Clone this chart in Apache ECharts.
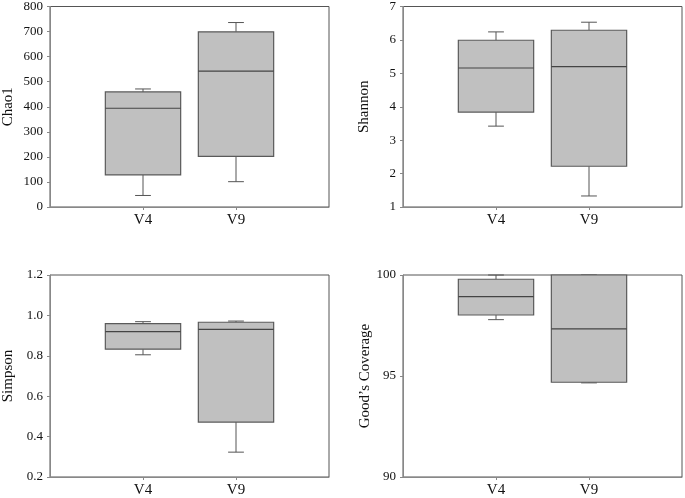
<!DOCTYPE html>
<html><head><meta charset="utf-8">
<script src="https://cdn.jsdelivr.net/npm/echarts@6/dist/echarts.min.js"></script>
<style>html,body{margin:0;padding:0;background:#fff}#c{width:685px;height:498px}</style>
</head><body><div id="c"></div>
<script>
// Data: [min, Q1, median, Q3, max]
const groups = ['V4', 'V9'];
const chao1 = [[46, 128, 394, 459, 471], [101, 202, 542, 699, 736]];
const shannon = [[3.42, 3.84, 5.16, 5.99, 6.24], [1.33, 2.22, 5.20, 6.29, 6.53]];
const simpson = [[0.805, 0.833, 0.920, 0.959, 0.969], [0.323, 0.472, 0.931, 0.966, 0.972]];
const goods = [[97.79, 98.02, 98.93, 99.79, 100], [94.66, 94.69, 97.33, 100, 100]];
const panelNames = ['Chao1', 'Shannon', 'Simpson', 'Good\u2019s Coverage'];
const panelData = [chao1, shannon, simpson, goods];
const yMin = [0, 1, 0.2, 90];
const yMax = [800, 7, 1.2, 100];
const yStep = [100, 1, 0.2, 5];
const yDecimals = [0, 0, 1, 0];

const cats = [''].concat(groups, ['']);
const font = 'Liberation Serif, Times New Roman, serif';
const grids = [
  {left: 47, top: 4, width: 282, height: 203},
  {left: 403, top: 4, width: 281, height: 203},
  {left: 47, top: 275, width: 282, height: 204},
  {left: 403, top: 275, width: 281, height: 204}
];
const nameGaps = [34, 31, 34, 30];

function renderBox(params, api) {
  const xi = api.value(0);
  const mn = api.value(1), q1 = api.value(2), md = api.value(3), q3 = api.value(4), mx = api.value(5);
  const band = api.size([1, 0])[0];
  const bw = band * 0.81, cw = band * 0.17;
  const pMin = api.coord([xi, mn]), pQ1 = api.coord([xi, q1]), pMd = api.coord([xi, md]);
  const pQ3 = api.coord([xi, q3]), pMax = api.coord([xi, mx]);
  const x = pMin[0];
  const st = {stroke: '#555', lineWidth: 1};
  return {type: 'group', children: [
    {type: 'line', shape: {x1: x, y1: pQ3[1], x2: x, y2: pMax[1]}, style: st},
    {type: 'line', shape: {x1: x - cw / 2, y1: pMax[1], x2: x + cw / 2, y2: pMax[1]}, style: st},
    {type: 'line', shape: {x1: x, y1: pQ1[1], x2: x, y2: pMin[1]}, style: st},
    {type: 'line', shape: {x1: x - cw / 2, y1: pMin[1], x2: x + cw / 2, y2: pMin[1]}, style: st},
    {type: 'rect', shape: {x: x - bw / 2, y: pQ3[1], width: bw, height: pQ1[1] - pQ3[1]},
      style: {fill: '#c0c0c0', stroke: '#5a5a5a', lineWidth: 1.2}},
    {type: 'line', shape: {x1: x - bw / 2, y1: pMd[1], x2: x + bw / 2, y2: pMd[1]},
      style: {stroke: '#444', lineWidth: 1.2}}
  ]};
}

const option = {
  animation: false,
  grid: grids.map(g => Object.assign({show: true, borderColor: '#555', borderWidth: 1, backgroundColor: '#fff'}, g)),
  xAxis: grids.map((g, i) => ({
    type: 'category', gridIndex: i, data: cats, boundaryGap: false,
    axisLine: {lineStyle: {color: '#888'}},
    axisTick: {length: 3, lineStyle: {color: '#888'}, interval: (idx) => idx === 1 || idx === 2},
    axisLabel: {fontFamily: font, fontSize: 15, color: '#111', margin: 6, interval: 0},
    splitLine: {show: false}
  })),
  yAxis: grids.map((g, i) => ({
    type: 'value', gridIndex: i, min: yMin[i], max: yMax[i], interval: yStep[i],
    name: panelNames[i], nameLocation: 'middle', nameGap: nameGaps[i],
    nameTextStyle: {fontFamily: font, fontSize: 15, color: '#111'},
    axisLine: {show: true, lineStyle: {color: '#888'}},
    axisTick: {show: true, length: 3, lineStyle: {color: '#888'}},
    axisLabel: {fontFamily: font, fontSize: 13, color: '#111', margin: 7,
      formatter: v => Number(v).toFixed(yDecimals[i])},
    splitLine: {show: false}
  })),
  series: panelData.map((d, i) => ({
    type: 'custom', xAxisIndex: i, yAxisIndex: i, clip: false,
    renderItem: renderBox,
    encode: {x: 0, y: [1, 2, 3, 4, 5]},
    data: d.map((v, k) => [k + 1].concat(v))
  }))
};
echarts.init(document.getElementById('c'), null, {renderer: 'canvas'}).setOption(option);
</script></body></html>
